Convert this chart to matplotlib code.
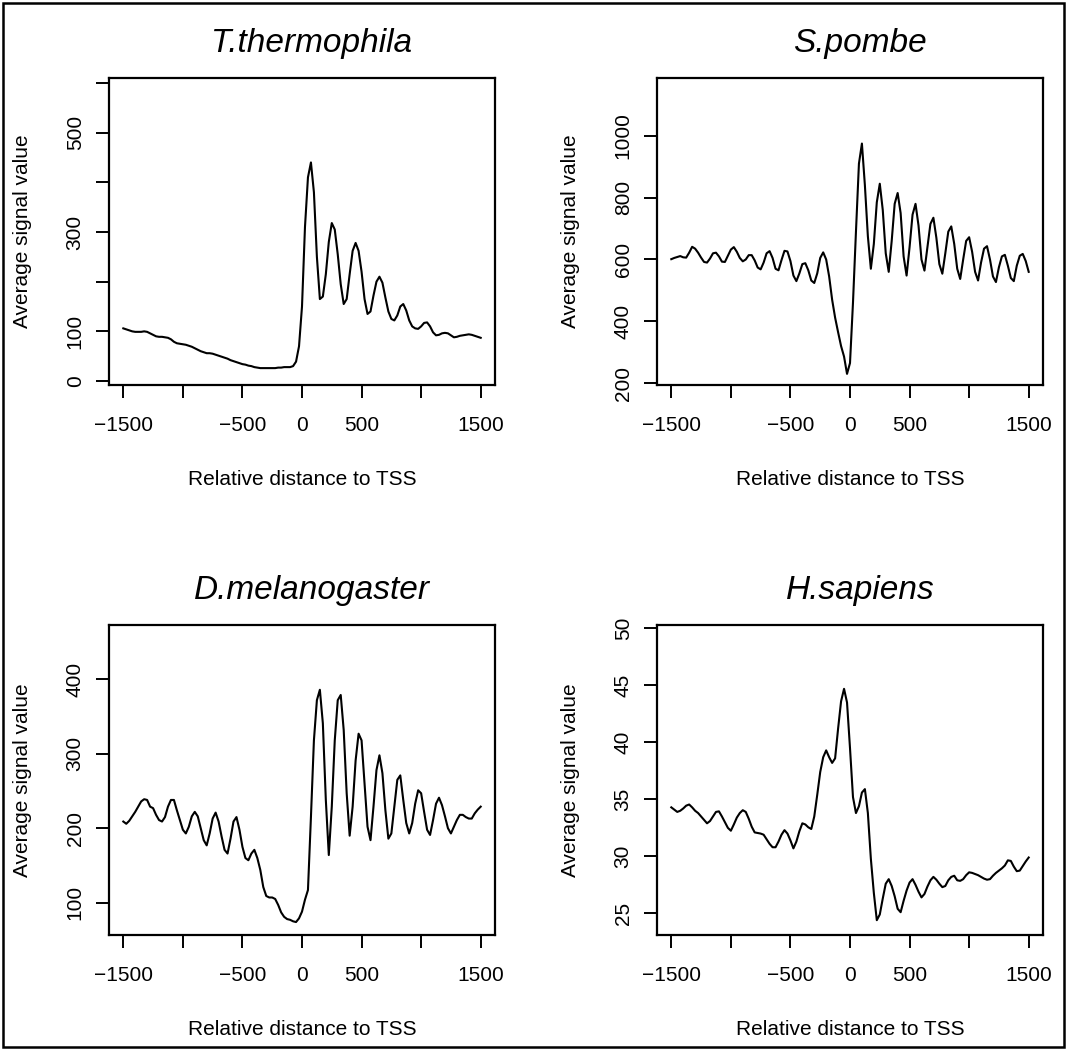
import numpy as np
import matplotlib
matplotlib.use("Agg")
import matplotlib.pyplot as plt
from matplotlib.patches import Rectangle

plt.rcParams["font.family"] = ["Liberation Sans", "DejaVu Sans"]

# relative distance to TSS (bp), same grid for every profile
distance = np.arange(-1500, 1501, 25)

thermophila = [
    106, 104, 102, 100, 99, 99, 99, 100, 99, 96, 93, 90, 89, 89, 88, 87, 84, 79, 76, 75,
    74, 73, 71, 69, 66, 63, 60, 58, 56, 56, 55, 53, 51, 49, 47, 45, 42, 40, 38, 36,
    34, 33, 31, 30, 28, 27, 26, 26, 26, 26, 26, 26, 27, 27, 28, 28, 28, 30, 39, 70,
    150, 310, 410, 440, 380, 250, 165, 170, 215, 280, 318, 305, 255, 195, 155, 165, 215, 262, 278, 262,
    220, 165, 135, 140, 172, 200, 210, 198, 168, 140, 125, 122, 132, 150, 155, 142, 122, 110, 106, 105,
    110, 117, 118, 110, 98, 92, 93, 96, 97, 96, 92, 88, 89, 91, 92, 93, 94, 93, 91, 89,
    87,
]

pombe = [
    601, 605, 608, 611, 607, 606, 622, 641, 635, 622, 606, 592, 590, 603, 620, 622, 610, 593, 592, 612,
    632, 640, 625, 605, 594, 600, 614, 614, 597, 574, 568, 590, 620, 627, 605, 570, 565, 598, 628, 626,
    595, 548, 530, 555, 585, 588, 565, 532, 524, 555, 605, 623, 600, 545, 470, 412, 365, 320, 286, 230,
    265, 460, 690, 910, 975, 840, 675, 570, 650, 785, 845, 760, 620, 560, 660, 780, 815, 750, 610, 548,
    640, 745, 780, 710, 600, 564, 640, 715, 735, 670, 585, 554, 620, 690, 707, 650, 570, 537, 600, 660,
    672, 625, 560, 532, 590, 635, 643, 600, 545, 527, 575, 610, 615, 580, 540, 530, 580, 612, 618, 595,
    560,
]

melanogaster = [
    209, 206, 210, 216, 222, 229, 236, 239, 238, 229, 227, 218, 211, 209, 215, 229, 238, 238, 224, 211,
    198, 193, 202, 216, 222, 216, 200, 184, 177, 193, 213, 221, 209, 189, 171, 166, 186, 209, 215, 198,
    175, 160, 157, 166, 171, 160, 144, 121, 109, 107, 107, 105, 97, 87, 81, 78, 77, 75, 74, 79,
    88, 104, 117, 215, 318, 372, 386, 341, 238, 164, 229, 318, 372, 379, 332, 247, 190, 229, 291, 327,
    318, 260, 202, 184, 229, 278, 298, 274, 224, 186, 193, 229, 265, 271, 238, 207, 193, 207, 233, 251,
    247, 222, 198, 191, 211, 233, 241, 231, 216, 200, 193, 202, 211, 218, 218, 215, 213, 213, 220, 225,
    229,
]

sapiens = [
    34.3, 34.1, 33.9, 34.0, 34.2, 34.45, 34.55, 34.3, 34.0, 33.8, 33.5, 33.2, 32.9, 33.1, 33.5, 33.9, 33.95, 33.5, 33.0, 32.5,
    32.25, 32.8, 33.4, 33.8, 34.05, 33.9, 33.3, 32.6, 32.1, 32.05, 32.0, 31.9, 31.5, 31.1, 30.8, 30.8, 31.3, 31.9, 32.3, 32.0,
    31.4, 30.7, 31.3, 32.2, 32.9, 32.8, 32.55, 32.4, 33.5, 35.4, 37.4, 38.7, 39.3, 38.7, 38.2, 38.6, 41.2, 43.6, 44.7, 43.5,
    39.5, 35.2, 33.8, 34.4, 35.6, 35.9, 33.8, 29.8, 26.8, 24.4, 24.9, 26.3, 27.6, 28.0, 27.4, 26.5, 25.4, 25.1, 26.1, 27.0,
    27.7, 28.0, 27.5, 26.9, 26.4, 26.7, 27.35, 27.9, 28.2, 27.95, 27.6, 27.3, 27.4, 27.9, 28.2, 28.3, 27.9, 27.85, 28.0, 28.35,
    28.6, 28.55, 28.45, 28.35, 28.2, 28.05, 27.95, 28.0, 28.3, 28.55, 28.75, 28.95, 29.2, 29.65, 29.6, 29.1, 28.7, 28.75, 29.15, 29.55,
    29.9,
]

x_ticks = [-1500, -1000, -500, 0, 500, 1000, 1500]
x_ticklabels = ["\u22121500", "", "\u2212500", "0", "500", "", "1500"]

W, H = 1067, 1050
fig = plt.figure(figsize=(W / 100, H / 100), dpi=100)

# (title, values, ylim, yticks, yticklabels, box in pixels: left, top, right, bottom)
panels = [
    ("T.thermophila", thermophila, (-8, 610), list(range(0, 601, 100)),
     ["0", "100", "", "300", "", "500", ""], (109, 78, 495, 385)),
    ("S.pombe", pombe, (194, 1187), [200, 400, 600, 800, 1000],
     ["200", "400", "600", "800", "1000"], (657, 78, 1043, 385)),
    ("D.melanogaster", melanogaster, (56.6, 473), [100, 200, 300, 400],
     ["100", "200", "300", "400"], (109, 625, 495, 935)),
    ("H.sapiens", sapiens, (23.1, 50.3), [25, 30, 35, 40, 45, 50],
     ["25", "30", "35", "40", "45", "50"], (657, 625, 1043, 935)),
]

for title, values, ylim, yticks, yticklabels, box in panels:
    left, top, right, bottom = box
    bw, bh = right - left, bottom - top
    ax = fig.add_axes([left / W, 1 - bottom / H, bw / W, bh / H])
    ax.plot(distance, values, color="black", lw=1.5)
    ax.set_xlim(-1620, 1620)
    ax.set_ylim(*ylim)

    ax.set_xticks(x_ticks)
    ax.set_xticklabels(x_ticklabels)
    ax.set_yticks(yticks)
    ax.set_yticklabels(yticklabels, rotation=90, va="center")
    ax.tick_params(direction="out", length=9.5, width=1.4, labelsize=15, color="black")
    ax.tick_params(axis="x", pad=13)
    ax.tick_params(axis="y", pad=8)
    for sp in ax.spines.values():
        sp.set_linewidth(1.6)

    ax.set_xlabel("Relative distance to TSS", fontsize=15)
    ax.set_ylabel("Average signal value", fontsize=15)
    ax.xaxis.set_label_coords(0.5, -85 / bh)
    ax.yaxis.set_label_coords(-77 / bw, 0.5)

    ax.text(0.526, 1 + 26 / bh, title, transform=ax.transAxes, ha="center",
            va="baseline", fontsize=24, style="italic")

fig.add_artist(Rectangle((3 / W, 3 / H), (1064 - 3) / W, (1047 - 3) / H,
                         transform=fig.transFigure, fill=False, lw=1.8, ec="black"))

fig.savefig("out.png", dpi=100)
